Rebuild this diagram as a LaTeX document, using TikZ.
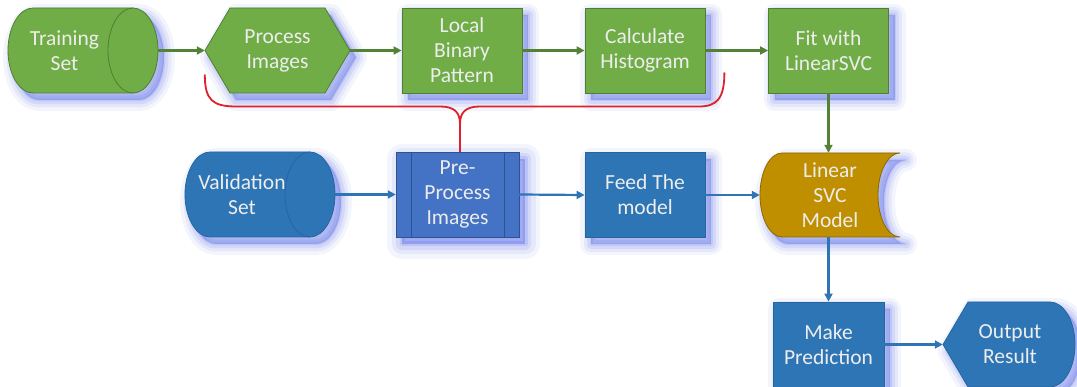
\documentclass[tikz,border=0pt]{standalone}
\usepackage{fontspec}
\setmainfont{Carlito}
\usetikzlibrary{arrows.meta,calc}
\definecolor{gfill}{HTML}{70AD47}
\definecolor{gline}{HTML}{507E32}
\definecolor{garr}{HTML}{548235}
\definecolor{bfill}{HTML}{2E75B6}
\definecolor{bline}{HTML}{2665A0}
\definecolor{pfill}{HTML}{4472C4}
\definecolor{pline}{HTML}{2F528F}
\definecolor{ofill}{HTML}{BF8F00}
\definecolor{oline}{HTML}{8C6900}
\definecolor{glow}{HTML}{3A4FE0}
\definecolor{bracered}{HTML}{E0202A}
\tikzset{
  lbl/.style={text=white!93!black, font=\fontsize{21.5}{25}\selectfont, align=center},
  box/.style={lbl, inner sep=0pt, minimum width=#1, minimum height=85pt},
  glowpass/.style 2 args={preaction={draw=glow, fill=glow, line width=#1, line join=round, opacity=#2,
      transform canvas={shift={(6,7)}}}},
  shad/.style={glowpass={22pt}{0.06}, glowpass={15pt}{0.08}, glowpass={9pt}{0.1}, glowpass={3pt}{0.12}},
  bigshad/.style={glowpass={30pt}{0.06}, glowpass={21pt}{0.08}, glowpass={12pt}{0.1}, glowpass={5pt}{0.14}},
  gshape/.style={fill=gfill, draw=gline, line width=0.8pt, shad},
  bshape/.style={fill=bfill, draw=bline, line width=0.8pt, shad},
  garrow/.style={draw=garr, line width=2.2pt, -{Triangle[length=8pt,width=8pt]}},
  barrow/.style={draw=bfill, line width=2.2pt, -{Triangle[length=8pt,width=8pt]}},
  bracestyle/.style={draw=bracered, line width=1.8pt},
}
\begin{document}
\begin{tikzpicture}[x=1pt,y=-1pt]
\useasboundingbox (0,0) rectangle (1077,387);

% ---- special shapes ----
% Training Set cylinder
\path[gshape] (133,8) -- (33,8) arc[start angle=270,end angle=90,x radius=25,y radius=42.5]
  -- (133,93) arc[start angle=90,end angle=-90,x radius=25,y radius=42.5] -- cycle;
\draw[gline, line width=0.8pt] (133,8) arc[start angle=270,end angle=90,x radius=25,y radius=42.5];
% Process Images hexagon
\path[gshape] (205,50.5) -- (230,8) -- (325,8) -- (350,50.5) -- (325,93) -- (230,93) -- cycle;
% Validation Set cylinder
\path[bshape] (310,152) -- (210,152) arc[start angle=270,end angle=90,x radius=25,y radius=42.5]
  -- (310,237) arc[start angle=90,end angle=-90,x radius=25,y radius=42.5] -- cycle;
\draw[bline, line width=0.8pt] (310,152) arc[start angle=270,end angle=90,x radius=25,y radius=42.5];
% Pre-Process predefined process
\path[fill=pfill, draw=pline, line width=0.8pt, bigshad] (396,152) rectangle (519,237);
\draw[pline, line width=0.8pt] (411,152) -- (411,237) (504,152) -- (504,237);
% Linear SVC Model stored data
\path[fill=ofill, draw=oline, line width=0.8pt, shad] (782,153) -- (900,153)
  arc[start angle=270,end angle=90,x radius=22,y radius=42] -- (782,237)
  arc[start angle=90,end angle=270,x radius=22,y radius=42] -- cycle;
% Output Result display
\path[bshape] (943,344.5) -- (968,302) -- (1050,302)
  arc[start angle=-90,end angle=90,x radius=25,y radius=42.5] -- (968,387) -- cycle;

% ---- nodes ----
\node[box=150pt, label={[lbl]center:\hspace*{-36pt}Training\\\hspace*{-36pt}Set}] (train) at (82.5,50.5) {};
\node[box=145pt] (proc) at (277.5,50.5) {Process\\Images};
\node[box=120pt, gshape] (lbp) at (462,50.5) {Local\\Binary\\Pattern};
\node[box=120pt, gshape] (hist) at (645,50.5) {Calculate\\Histogram};
\node[box=120pt, gshape] (fit) at (828.5,50.5) {Fit with\\LinearSVC};
\node[box=150pt, label={[lbl]center:\hspace*{-36pt}Validation\\\hspace*{-36pt}Set}] (val) at (260,194.5) {};
\node[box=123pt] (pre) at (457.5,194.5) {Pre-\\Process\\Images};
\node[box=120pt, bshape] (feed) at (645,195) {Feed The\\model};
\node[box=140pt, minimum height=84pt] (svc) at (830,195) {Linear\\SVC\\Model};
\node[box=111pt, bshape] (make) at (828.5,344.5) {Make\\Prediction};
\node[box=134pt] (out) at (1010,344.5) {Output\\Result};

% ---- connectors ----
\draw[garrow] (train.east) -- (proc.west);
\draw[garrow] (proc.east) -- (lbp.west);
\draw[garrow] (lbp.east) -- (hist.west);
\draw[garrow] (hist.east) -- (fit.west);
\draw[garrow] (fit.south) -- (fit.south |- svc.north);
\draw[barrow] (val.east) -- (pre.west);
\draw[barrow] (pre.east) -- (feed.west);
\draw[barrow] (feed.east) -- (svc.west);
\draw[barrow] (make.north |- svc.south) -- (make.north);
\draw[barrow] (make.east) -- (out.west);

% ---- brace ----
\coordinate (bl) at ($(proc.west)+(0,24)$);
\coordinate (br) at ($(hist.east)+(19,22)$);
\coordinate (cusp) at (460,124);
\draw[bracestyle] (bl) .. controls ($(bl)+(0,26)$) and ($(bl)+(8,32)$) .. ($(bl)+(32,32)$)
  -- (440,106.5) .. controls (454,106.5) and (460,112) .. (cusp) -- (cusp |- pre.north);
\draw[bracestyle] (cusp) .. controls (460,112) and (466,106.5) .. (480,106.5)
  -- ($(br)+(-26,34)$) .. controls ($(br)+(-8,34)$) and ($(br)+(0,27)$) .. (br);
\end{tikzpicture}
\end{document}
